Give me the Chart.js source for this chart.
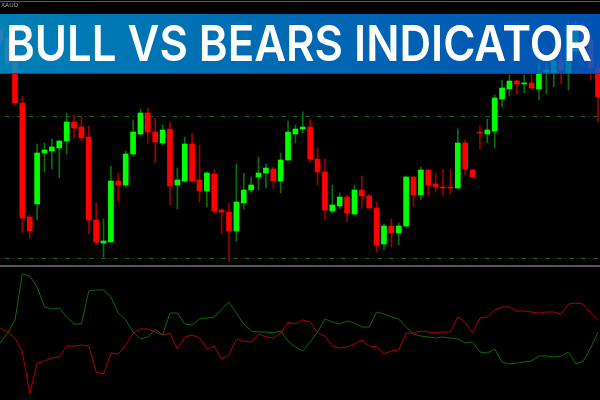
<!DOCTYPE html>
<html>
<head>
<meta charset="utf-8">
<title>Bull vs Bears Indicator</title>
<script src="https://cdn.jsdelivr.net/npm/chart.js@4.4.1/dist/chart.umd.min.js"></script>
<style>
  html, body { margin: 0; padding: 0; background: #000; }
  #wrap { position: relative; width: 600px; height: 400px; overflow: hidden; background: #000; }
  #main { position: absolute; left: 0; top: 0; }
  #ind { position: absolute; left: 0; top: 268px; }
  #topline { position: absolute; left: 0; top: 1px; width: 600px; height: 1px; background: #5a5a5a; }
  #symbol { position: absolute; left: 1px; top: 2px; font: 6px/6px "DejaVu Sans", sans-serif; color: #9a9a9a; }
  #sep { position: absolute; left: 0; top: 265px; width: 600px; height: 2px; background: #555; }
  #banner {
    position: absolute; left: 0; top: 14px; width: 600px; height: 59px;
    background: linear-gradient(90deg, rgba(0, 152, 216, 0.84), rgba(0, 98, 212, 0.84));
    border-bottom: 1px solid rgba(0, 70, 160, 0.9);
  }
  #title {
    position: absolute; left: 6px; top: 4px; display: inline-block; width: max-content;
    font: 600 50px/50px Inter, "Open Sans", sans-serif; color: #fff;
    white-space: nowrap; transform-origin: 0 0;
  }
</style>
</head>
<body>
<div id="wrap">
  <canvas id="main" width="600" height="266"></canvas>
  <canvas id="ind" width="600" height="132"></canvas>
  <div id="topline"></div>
  <div id="symbol">XAUD</div>
  <div id="sep"></div>
  <div id="banner"><span id="title"></span></div>
</div>
<script>
  // price candles (arbitrary price units)
  const candleOpen  = [236,228,203,163,49,62,113,115,118,125,144,139,129,46,23,24,85,81,112,132,153,134,123,137,81,85,122,86,75,92,56,54,35,63,76,89,93,97,85,106,132,137,139,107,94,55,60,69,52,76,70,58,22,40,33,40,89,71,96,82,79,79,78,123,96,134,132,135,167,177,185,182,183,177,194,193,206,193,215,240,226,198];
  const candleClose = [226,203,163,48,35,113,116,119,125,144,138,128,46,24,25,85,81,112,134,153,134,124,136,80,86,122,85,75,93,55,54,35,64,76,81,93,98,85,106,134,137,139,107,94,56,61,69,53,76,70,58,21,40,33,40,89,71,96,81,79,78,78,123,97,89,133,136,168,178,185,182,183,178,193,196,205,196,238,240,226,198,169];
  const candleHigh  = [241,233,208,170,51,122,123,127,126,153,151,150,140,63,47,100,93,115,146,157,158,148,141,144,98,129,133,121,94,97,57,63,102,93,89,109,102,99,113,145,141,154,147,118,107,81,73,71,81,90,72,64,42,47,43,90,90,99,96,93,97,97,137,126,97,140,147,171,186,191,186,191,191,204,204,211,216,246,246,246,231,204];
  const candleLow   = [221,200,161,33,28,46,94,97,88,112,128,125,32,21,9,24,64,79,110,131,123,103,121,61,57,84,84,64,59,53,32,5,25,57,74,76,78,79,73,105,123,133,104,81,47,53,57,44,51,58,57,14,16,19,21,39,59,66,70,74,70,72,77,91,89,117,123,118,159,170,172,173,177,166,172,179,182,176,208,220,186,144];

  // dashed level lines on the price panel
  const levelLines = [149.5, 7.5];

  // indicator panel
  const bullsPower = [-9,1,14,60,58,47,27,25,26,17,10,10,43,44,44,37,21,14,2,-5,-3,5,-1,21,21,10,9,15,16,17,25,32,21,10,3,2,2,1,3,-7,-13,-17,-8,2,15,12,10,13,11,7,7,22,20,17,15,7,0,-2,-3,-4,-3,-4,-5,-9,-8,-18,-19,-15,-28,-30,-29,-28,-27,-22,-22,-23,-22,-18,-30,-27,-14,2];
  const bearsPower = [6,2,-4,-18,-60,-29,-27,-24,-23,-12,-12,-11,-12,-38,-40,-19,-20,-11,1,5,5,2,-1,1,-15,-3,-1,-4,-15,-12,-25,-21,-5,-7,-8,0,-3,-4,1,12,10,14,12,1,-2,-12,-14,-13,-10,-6,-12,-13,-20,-17,-16,1,1,3,2,1,2,2,17,12,1,16,17,24,27,27,23,23,22,21,22,22,20,30,31,30,21,14];

  const titleText = 'BULL VS BEARS INDICATOR';

  const BULL = '#00ff00', BEAR = '#ff0000';
  const BULL_WICK = '#0a6e0a', BEAR_WICK = '#9a0000';
  const X_MIN = -0.03, X_MAX = 81.27;

  const isBull = (i) => candleClose[i] >= candleOpen[i];
  const n = candleOpen.length;

  const baseOpts = {
    responsive: false,
    animation: false,
    devicePixelRatio: 1,
    layout: { padding: 0 },
    events: [],
    plugins: { legend: { display: false }, tooltip: { enabled: false } },
  };

  new Chart(document.getElementById('main'), {
    type: 'bar',
    data: {
      datasets: [
        {
          label: 'body',
          data: candleOpen.map((o, i) => ({ x: i, y: [o, candleClose[i]] })),
          backgroundColor: candleOpen.map((o, i) => isBull(i) ? BULL : BEAR),
          barThickness: 5, grouped: false, minBarLength: 1, borderWidth: 0, order: 0,
        },
        {
          label: 'wick',
          data: candleLow.map((l, i) => ({ x: i, y: [l, candleHigh[i]] })),
          backgroundColor: candleLow.map((l, i) => isBull(i) ? BULL_WICK : BEAR_WICK),
          barThickness: 1, grouped: false, borderWidth: 0, order: 1,
        },
        ...levelLines.map((v) => ({
          type: 'line',
          data: [{ x: -1, y: v }, { x: n, y: v }],
          borderColor: '#0c6c0c', borderWidth: 1, borderDash: [5, 3, 1, 3],
          pointRadius: 0, order: 2,
        })),
      ],
    },
    options: Object.assign({}, baseOpts, {
      scales: {
        x: { type: 'linear', display: false, min: X_MIN, max: X_MAX, offset: false },
        y: { display: false, min: 0, max: 266 },
      },
    }),
  });

  new Chart(document.getElementById('ind'), {
    type: 'line',
    data: {
      datasets: [
        { label: 'Bulls', data: bullsPower.map((v, i) => ({ x: i, y: v })),
          borderColor: '#0b6a0b', borderWidth: 1, pointRadius: 0, tension: 0 },
        { label: 'Bears', data: bearsPower.map((v, i) => ({ x: i, y: v })),
          borderColor: '#b00000', borderWidth: 1, pointRadius: 0, tension: 0 },
      ],
    },
    options: Object.assign({}, baseOpts, {
      scales: {
        x: { type: 'linear', display: false, min: X_MIN, max: X_MAX },
        y: { display: false, min: -66, max: 66 },
      },
    }),
  });

  // stretch the title so it spans the banner like the original
  const title = document.getElementById('title');
  title.textContent = titleText;
  function fitTitle() {
    title.style.transform = 'none';
    const w = title.getBoundingClientRect().width;
    title.style.transform = 'scaleX(' + (586 / w) + ')';
  }
  fitTitle();
  if (document.fonts && document.fonts.ready) document.fonts.ready.then(fitTitle);
</script>
</body>
</html>
